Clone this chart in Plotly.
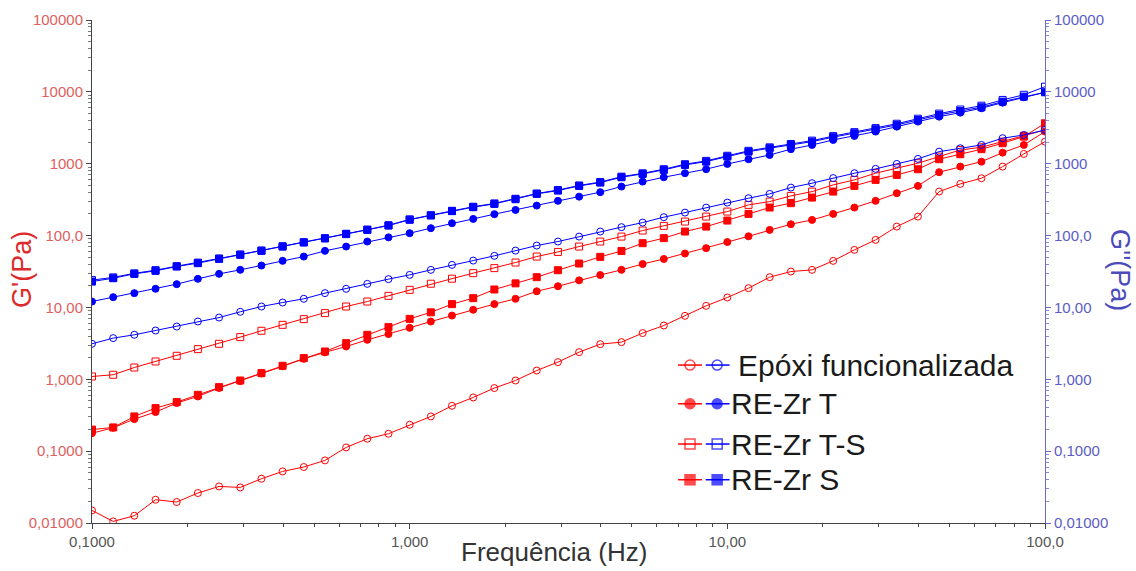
import plotly.graph_objects as go

# ---------------- data ----------------
freq = [0.1, 0.1166, 0.1359, 0.1585, 0.1848, 0.2154, 0.2512, 0.2929, 0.3415, 0.3981,
        0.4642, 0.5412, 0.6310, 0.7356, 0.8577, 1.0, 1.166, 1.359, 1.585, 1.848,
        2.154, 2.512, 2.929, 3.415, 3.981, 4.642, 5.412, 6.310, 7.356, 8.577,
        10.0, 11.66, 13.59, 15.85, 18.48, 21.54, 25.12, 29.29, 34.15, 39.81,
        46.42, 54.12, 63.10, 73.56, 85.77, 100.0]

# Epóxi funcionalizada
epoxi_g1 = [0.01496, 0.01052, 0.01262, 0.02109, 0.01959, 0.02612, 0.03228, 0.03126, 0.04130, 0.05224,
            0.06012, 0.07430, 0.1127, 0.1489, 0.1746, 0.2328, 0.3041, 0.4276, 0.5585, 0.7551,
            0.9616, 1.324, 1.734, 2.388, 3.083, 3.289, 4.395, 5.598, 7.638, 10.52,
            13.74, 18.54, 26.36, 31.55, 33.34, 44.46, 63.24, 87.10, 133.4, 183.7,
            409.3, 523.6, 628.1, 912.0, 1368, 2028]
epoxi_g2 = [3.119, 3.741, 4.159, 4.775, 5.420, 6.368, 7.228, 8.690, 10.30, 11.70,
            13.18, 15.81, 18.16, 21.28, 24.77, 28.38, 33.34, 39.08, 44.87, 52.24,
            61.80, 72.61, 82.60, 96.83, 113.8, 130.9, 151.7, 180.3, 208.9, 244.9,
            287.7, 331.1, 380.2, 465.6, 535.8, 631.0, 738.2, 847.2, 993.1, 1167,
            1472, 1641, 1824, 2265, 2512, 2951]

# RE-Zr T
ret_g1 = [0.1778, 0.2113, 0.2793, 0.3499, 0.4677, 0.5768, 0.7586, 0.9441, 1.202, 1.514,
          1.928, 2.371, 2.858, 3.540, 4.256, 5.200, 6.368, 7.709, 9.268, 11.12,
          13.18, 16.79, 19.72, 23.82, 28.25, 33.34, 40.18, 47.21, 56.23, 66.83,
          81.28, 97.72, 120.0, 143.9, 165.2, 200.4, 245.5, 304.1, 389.0, 490.9,
          762.1, 912.0, 1069, 1426, 1824, 2799]
ret_g2 = [12.08, 13.90, 15.81, 18.16, 21.09, 25.00, 29.31, 33.34, 38.28, 44.46,
          51.05, 61.24, 70.31, 82.60, 94.41, 107.9, 126.8, 148.6, 170.6, 198.6,
          227.5, 261.2, 304.1, 348.3, 401.8, 480.8, 563.6, 648.6, 738.2, 839.5,
          993.1, 1156, 1324, 1592, 1824, 2143, 2438, 2799, 3281, 3855,
          4519, 5140, 5916, 7079, 8414, 9863]

# RE-Zr T-S
rets_g1 = [1.094, 1.156, 1.459, 1.770, 2.123, 2.630, 3.119, 3.864, 4.732, 5.728,
           6.871, 8.337, 10.30, 12.08, 14.49, 17.58, 21.38, 25.12, 29.99, 35.24,
           42.17, 51.05, 59.16, 70.31, 82.60, 96.83, 117.5, 136.5, 156.7, 183.7,
           215.8, 267.3, 297.2, 356.5, 409.3, 507.0, 595.7, 738.2, 865.0, 1016,
           1256, 1556, 1694, 2028, 2438, 2951]
rets_g2 = [24.0, 26.2, 29.8, 33.0, 37.5, 42.0, 48.0, 54.5, 62.0, 71.0,
           81.0, 92.0, 106.0, 121.0, 139.0, 168.0, 192.0, 221.0, 252.0, 280.0,
           325.0, 385.0, 430.0, 498.0, 556.0, 660.0, 735.0, 838.0, 985.0, 1095,
           1290, 1510, 1690, 1880, 2095, 2420, 2750, 3130, 3600, 4230,
           4980, 5680, 6420, 7720, 9100, 11800]

# RE-Zr S
res_g1 = [0.1995, 0.2138, 0.3041, 0.3972, 0.4819, 0.6081, 0.7780, 0.9616, 1.219, 1.542,
          1.972, 2.438, 3.184, 4.159, 5.321, 6.934, 8.551, 11.12, 13.46, 17.78,
          21.63, 26.36, 32.96, 40.83, 50.58, 60.95, 78.34, 92.04, 113.8, 133.4,
          161.8, 200.4, 245.5, 282.5, 338.1, 409.3, 490.9, 595.7, 698.2, 837.5,
          1156, 1355, 1592, 1928, 2382, 3656]
res_g2 = [22.9, 25.5, 29.3, 32.3, 37.1, 41.3, 47.4, 54.0, 61.2, 70.3,
          80.0, 91.2, 104.7, 120.2, 138.0, 166.0, 190.5, 218.8, 248.3, 276.1,
          320.6, 380.2, 422.7, 490.9, 545.8, 648.6, 721.1, 820.4, 961.6, 1069,
          1256, 1472, 1644, 1824, 2028, 2339, 2655, 3020, 3467, 4064,
          4775, 5420, 6109, 7311, 8570, 9863]

legend_names = ["Epóxi funcionalizada", "RE-Zr T", "RE-Zr T-S", "RE-Zr S"]
ytick_vals = [0.01, 0.1, 1, 10, 100, 1000, 10000, 100000]
ytick_text = ["0,01000", "0,1000", "1,000", "10,00", "100,0", "1000", "10000", "100000"]
xtick_vals = [0.1, 1, 10, 100]
xtick_text = ["0,1000", "1,000", "10,00", "100,0"]

# ---------------- style ----------------
RED = "#ff0000"
BLUE = "#0000ff"
FONT = "Liberation Sans, Arial, sans-serif"

series = [
    (epoxi_g1, epoxi_g2, "circle-open"),
    (ret_g1, ret_g2, "circle"),
    (rets_g1, rets_g2, "square-open"),
    (res_g1, res_g2, "square"),
]

fig = go.Figure()

# G'' (blue, right axis)
for (g1, g2, sym), name in zip(series, legend_names):
    fig.add_trace(go.Scatter(
        x=freq, y=g2, mode="lines+markers", name=name + " G''", showlegend=False,
        yaxis="y2",
        line=dict(color=BLUE, width=1),
        marker=dict(symbol=sym, size=7, color=BLUE, line=dict(color=BLUE, width=1)),
    ))
# G' (red, left axis)
for (g1, g2, sym), name in zip(series, legend_names):
    fig.add_trace(go.Scatter(
        x=freq, y=g1, mode="lines+markers", name=name + " G'", showlegend=False,
        line=dict(color=RED, width=1),
        marker=dict(symbol=sym, size=7, color=RED, line=dict(color=RED, width=1)),
    ))

# custom legend (two symbols per entry) on an auxiliary hidden axis
leg_rows = [0.314, 0.237, 0.157, 0.086]
red_seg = [0.615, 0.6275, 0.640]
blue_seg = [0.644, 0.656, 0.669]
for (g1, g2, sym), ry in zip(series, leg_rows):
    for seg, col in ((red_seg, RED), (blue_seg, BLUE)):
        fig.add_trace(go.Scatter(
            x=seg, y=[ry, ry, ry], mode="lines+markers", showlegend=False,
            xaxis="x3", yaxis="y3", hoverinfo="skip",
            line=dict(color=col, width=1.5),
            marker=dict(symbol=sym, size=[0, 10, 0], color=col, line=dict(color=col, width=1.5)),
        ))
for name, ry in zip(legend_names, leg_rows):
    fig.add_annotation(
        x=0.676 if name.startswith("E") else 0.668, y=ry, xref="paper", yref="paper",
        text=name, showarrow=False, xanchor="left", yanchor="middle",
        font=dict(family=FONT, size=30, color="#1a1a1a"),
    )

minor_y = [m * 10 ** e for e in range(-2, 5) for m in range(2, 10)]
minor_x = [m * 10 ** e for e in range(-1, 2) for m in range(2, 10)]

fig.update_layout(
    width=1136, height=571,
    margin=dict(l=92, r=91, t=20, b=48),
    paper_bgcolor="white", plot_bgcolor="white",
    showlegend=False,
    xaxis=dict(
        type="log", range=[-1, 2], tickmode="array", tickvals=xtick_vals, ticktext=xtick_text,
        showgrid=False, zeroline=False, showline=True, linecolor="#444444", linewidth=1,
        ticks="outside", ticklen=5, tickcolor="#444444",
        tickfont=dict(family=FONT, size=15, color="#555555"),
        minor=dict(tickvals=minor_x, ticks="outside", ticklen=3, tickcolor="#444444", showgrid=False),
    ),
    yaxis=dict(
        type="log", range=[-2, 5], tickmode="array", tickvals=ytick_vals, ticktext=ytick_text,
        showgrid=False, zeroline=False, showline=True, linecolor="#444444", linewidth=1,
        ticks="outside", ticklen=5, tickcolor="#444444",
        tickfont=dict(family=FONT, size=15, color="#e06060"),
        minor=dict(tickvals=minor_y, ticks="outside", ticklen=3, tickcolor="#777777", showgrid=False),
    ),
    yaxis2=dict(
        type="log", range=[-2, 5], overlaying="y", side="right", anchor="x",
        tickmode="array", tickvals=ytick_vals, ticktext=ytick_text,
        showgrid=False, zeroline=False, showline=True, linecolor="#6a6acc", linewidth=1,
        ticks="outside", ticklen=5, tickcolor="#6a6acc",
        tickfont=dict(family=FONT, size=15, color="#5c5cc4"),
        minor=dict(tickvals=minor_y, ticks="outside", ticklen=3, tickcolor="#8a8ad8", showgrid=False),
    ),
    xaxis3=dict(range=[0, 1], overlaying="x", anchor="y3", visible=False, fixedrange=True),
    yaxis3=dict(range=[0, 1], overlaying="y", anchor="x3", visible=False, fixedrange=True),
)

# axis titles
fig.add_annotation(x=-0.0735, y=0.505, xref="paper", yref="paper", text="G'(Pa)",
                   textangle=-90, showarrow=False, xanchor="center", yanchor="middle",
                   font=dict(family=FONT, size=27, color="#dd2a2a"))
fig.add_annotation(x=1.0787, y=0.503, xref="paper", yref="paper", text="G''(Pa)",
                   textangle=90, showarrow=False, xanchor="center", yanchor="middle",
                   font=dict(family=FONT, size=27, color="#4b4bbb"))
fig.add_annotation(x=0.485, y=-0.058, xref="paper", yref="paper", text="Frequência (Hz)",
                   showarrow=False, xanchor="center", yanchor="middle",
                   font=dict(family=FONT, size=26, color="#333333"))

fig.write_html("out.html")
